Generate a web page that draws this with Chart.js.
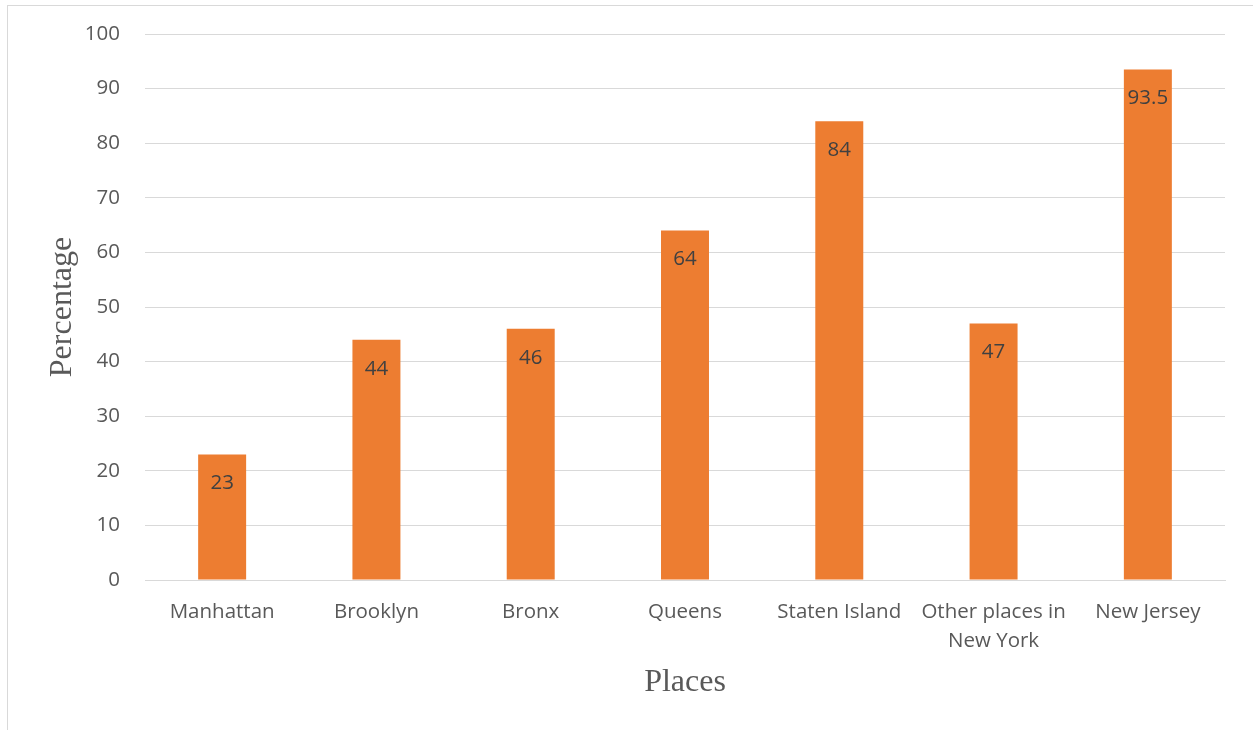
<!DOCTYPE html>
<html>
<head>
<meta charset="utf-8">
<script src="https://cdn.jsdelivr.net/npm/chart.js@4/dist/chart.umd.min.js"></script>
<style>
  html, body { margin: 0; padding: 0; background: #ffffff; }
  #wrap { position: relative; width: 1253px; height: 730px; overflow: hidden; }
  #frame { position: absolute; left: 7px; top: 5px; width: 1400px; height: 900px;
           border-left: 1px solid #d9d9d9; border-top: 1px solid #d9d9d9; box-sizing: border-box; }
  #c { position: absolute; left: 0; top: 0; }
</style>
</head>
<body>
<div id="wrap">
  <div id="frame"></div>
  <canvas id="c" width="1253" height="730"></canvas>
</div>
<script>
// Share of respondents per place
const places = ['Manhattan', 'Brooklyn', 'Bronx', 'Queens', 'Staten Island', ['Other places in', 'New York'], 'New Jersey'];
const percentages = [23, 44, 46, 64, 84, 47, 93.5];
const yTicks = [0, 10, 20, 30, 40, 50, 60, 70, 80, 90, 100];

const tickFont = { family: "'Open Sans', 'Liberation Sans', sans-serif", size: 20.5 };
const titleFont = { family: "'Liberation Serif', 'Times New Roman', serif", size: 32 };

// Value labels written just inside the top of each bar
const valueLabels = {
  id: 'valueLabels',
  afterDatasetsDraw(chart) {
    const ctx = chart.ctx;
    const meta = chart.getDatasetMeta(0);
    ctx.save();
    ctx.font = `${tickFont.size}px ${tickFont.family}`;
    ctx.fillStyle = '#404040';
    ctx.textAlign = 'center';
    ctx.textBaseline = 'middle';
    meta.data.forEach((bar, i) => {
      ctx.fillText(String(percentages[i]), bar.x, bar.y + 29);
    });
    ctx.restore();
  }
};

new Chart(document.getElementById('c'), {
  type: 'bar',
  data: {
    labels: places,
    datasets: [{
      data: percentages,
      backgroundColor: '#ED7D31',
      borderWidth: 0,
      barPercentage: 0.311,
      categoryPercentage: 1.0
    }]
  },
  options: {
    responsive: false,
    animation: false,
    devicePixelRatio: 1,
    layout: { padding: { left: 43, right: 28, top: 34, bottom: 0 } },
    plugins: { legend: { display: false }, tooltip: { enabled: false } },
    scales: {
      x: {
        grid: { display: false, drawTicks: false },
        border: { display: true, color: '#d9d9d9', width: 1 },
        ticks: { color: '#595959', font: { ...tickFont, lineHeight: 1.4 }, padding: 18, maxRotation: 0, autoSkip: false },
        title: { display: true, text: 'Places', color: '#595959', font: titleFont, padding: { top: 0, bottom: 28 } },
        afterFit(scale) { scale.height = 150; scale.paddingLeft = 0; scale.paddingRight = 0; }
      },
      y: {
        min: 0, max: 100,
        afterBuildTicks(scale) { scale.ticks = yTicks.map(v => ({ value: v })); },
        grid: { color: '#d9d9d9', lineWidth: 1, drawTicks: false },
        border: { display: false },
        ticks: { color: '#595959', font: tickFont, padding: 25 },
        title: { display: true, text: 'Percentage', color: '#595959', font: titleFont, padding: { top: 0, bottom: 0 } },
        afterFit(scale) { scale.width = 102; scale.paddingTop = 0; scale.paddingBottom = 0; }
      }
    }
  },
  plugins: [valueLabels]
});
</script>
</body>
</html>
